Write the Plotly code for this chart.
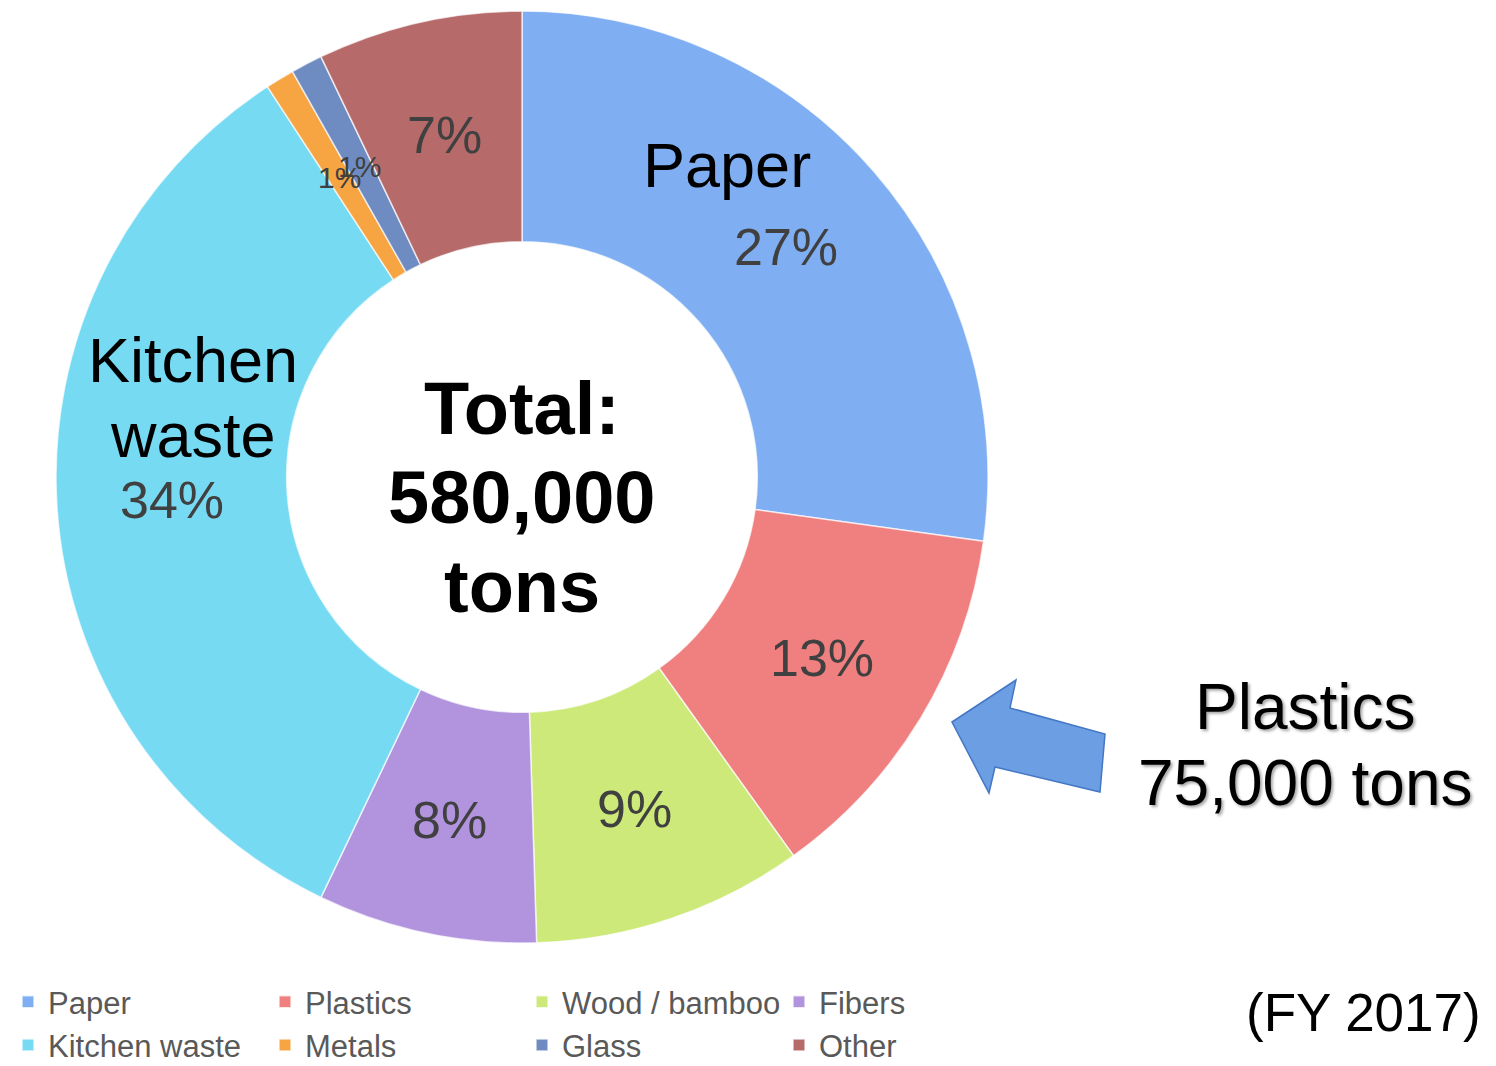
import math
import plotly.graph_objects as go

# ---- data (shares of total waste, %, FY 2017) ----
categories = ["Paper", "Plastics", "Wood / bamboo", "Fibers",
              "Kitchen waste", "Metals", "Glass", "Other"]
shares = [27.2, 12.9, 9.4, 7.6, 33.7, 1.0, 1.1, 7.1]
colors = ["#7FAFF2", "#F07F7F", "#CDE97A", "#B294DE",
          "#76DAF3", "#F7A443", "#6F8CC2", "#B66A6A"]

total_lines = ["Total:", "580,000", "tons"]
plastics_lines = ["Plastics", "75,000 tons"]
kitchen_lines = ["Kitchen", "waste"]
year_label = "(FY 2017)"

# page has an 8px body margin: figure drawn 8px in from the window's edge
OFF = 8
W, H = 1496 - OFF, 1066 - OFF
ML, MR, MT, MB = 0, 300, 0, 0
PW, PH = W - ML - MR, H - MT - MB


def px(x):  # window pixel -> paper x
    return (x - OFF - ML) / PW


def py(y):  # window pixel -> paper y
    return 1 - (y - OFF - MT) / PH


FONT = "Liberation Sans, Arial, sans-serif"

# donut geometry (window pixels)
CX, CY, R_OUT, HOLE = 522, 477, 466, 0.505
R_MID = R_OUT * (1 + HOLE) / 2

total = sum(shares)

fig = go.Figure()
fig.add_trace(go.Pie(
    labels=categories,
    values=shares,
    sort=False,
    direction="clockwise",
    rotation=0,
    hole=HOLE,
    marker=dict(colors=colors, line=dict(color="rgba(255,255,255,0.7)", width=1.5)),
    textinfo="none",
    domain=dict(x=[px(CX - R_OUT), px(CX + R_OUT)], y=[py(CY + R_OUT), py(CY - R_OUT)]),
    hoverinfo="label+percent",
))

annotations = []


def add_lines(lines, x, ys, size, **font):
    for t, y in zip(lines, ys):
        annotations.append(dict(text=t, x=px(x), y=py(y),
                                font=dict(size=size, color="#000000", **font)))


add_lines(["Paper"], 727, [165], 63)
add_lines(kitchen_lines, 193, [360, 435], 63)
add_lines(["<b>" + t + "</b>" for t in total_lines], 522, [408, 497, 586], 74)
add_lines(plastics_lines, 1305, [707, 783], 64,
          shadow="2px 2px 3px rgba(0,0,0,0.35)")
add_lines([year_label], 1363, [1012], 53)

# percentage labels at each slice's centroid (thin slices overlap, as in the original)
cum = 0.0
for s in shares:
    mid = (cum + s / 2) / total
    cum += s
    ang = 2 * math.pi * mid
    annotations.append(dict(
        text=f"{round(100 * s / total)}%",
        x=px(CX + R_MID * math.sin(ang)), y=py(CY - R_MID * math.cos(ang)),
        font=dict(size=52 if s / total >= 0.02 else 30, color="#404040")))

for a in annotations:
    a.update(xref="paper", yref="paper", showarrow=False,
             xanchor="center", yanchor="middle")
    a["font"]["family"] = FONT

# block arrow pointing at the Plastics slice
arrow_pts = [(952, 722), (1016, 680), (1010, 708), (1105, 734),
             (1100, 792), (995, 767), (989, 793)]
path = "M " + " L ".join(f"{px(x):.5f},{py(y):.5f}" for x, y in arrow_pts) + " Z"

fig.update_layout(
    width=W, height=H,
    margin=dict(l=ML, r=MR, t=MT, b=MB, autoexpand=False),
    paper_bgcolor="white", plot_bgcolor="white",
    font=dict(family=FONT),
    annotations=annotations,
    shapes=[dict(type="path", path=path, xref="paper", yref="paper",
                 fillcolor="#6C9EE4", line=dict(color="#4477C4", width=1.5))],
    showlegend=True,
    legend=dict(orientation="h", x=0, y=py(975), xanchor="left", yanchor="top",
                entrywidth=212, entrywidthmode="pixels",
                font=dict(family=FONT, size=31, color="#595959"),
                bgcolor="rgba(0,0,0,0)", traceorder="normal"),
)

fig.write_html("out.html")
